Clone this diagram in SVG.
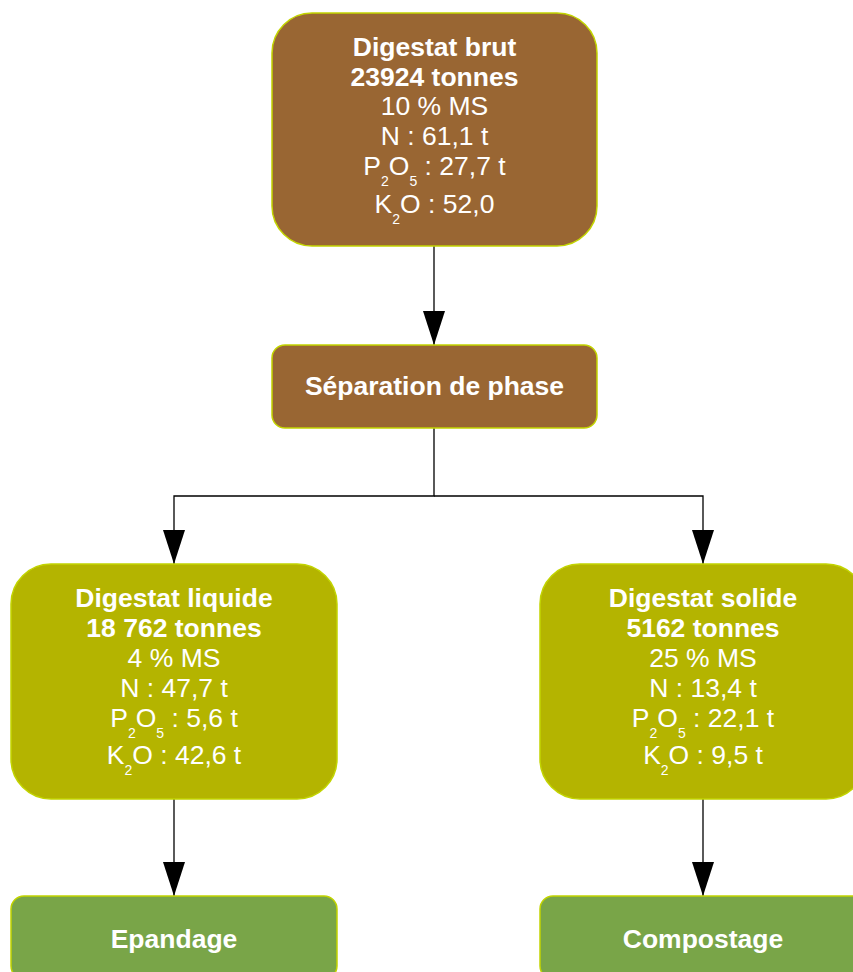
<svg xmlns="http://www.w3.org/2000/svg" width="853" height="972" viewBox="0 0 853 972">
  <style>
    .box { stroke: #c2d400; stroke-width: 1.5; }
    .brown { fill: #996633; }
    .olive { fill: #b4b400; }
    .green { fill: #79a548; }
    text { font-family: "Liberation Sans", Arial, sans-serif; fill: #ffffff; text-anchor: middle; font-size: 26.5px; }
    .b { font-weight: bold; }
    .sub { font-size: 14px; }
    .conn { fill: none; stroke: #000000; stroke-width: 1.3; }
  </style>
  <defs>
    <marker id="arrow" viewBox="0 0 34 22" refX="34" refY="11" markerWidth="34" markerHeight="22" markerUnits="userSpaceOnUse" orient="auto">
      <path d="M0,0 L34,11 L0,22 z" fill="#000000"/>
    </marker>
  </defs>
  <rect width="853" height="972" fill="#ffffff"/>

  <g id="connectors">
    <path class="conn" d="M434,246 L434,345" marker-end="url(#arrow)"/>
    <path class="conn" d="M434,428 L434,496 L174,496 L174,564" marker-end="url(#arrow)"/>
    <path class="conn" d="M434,496 L703,496 L703,564" marker-end="url(#arrow)"/>
    <path class="conn" d="M174,799 L174,896" marker-end="url(#arrow)"/>
    <path class="conn" d="M703,799 L703,896" marker-end="url(#arrow)"/>
  </g>

  <g id="brut">
    <rect class="box brown" x="272" y="13" width="325" height="233" rx="40" ry="40"/>
    <text x="434.5" y="56" class="b">Digestat brut</text>
    <text x="434.5" y="86" class="b">23924 tonnes</text>
    <text x="434.5" y="115">10 % MS</text>
    <text x="434.5" y="145">N : 61,1 t</text>
    <text x="434.5" y="175">P<tspan class="sub" dy="10.5">2</tspan><tspan dy="-10.5">O</tspan><tspan class="sub" dy="10.5">5</tspan><tspan dy="-10.5"> : 27,7 t</tspan></text>
    <text x="434.5" y="213">K<tspan class="sub" dy="10.5">2</tspan><tspan dy="-10.5">O : 52,0</tspan></text>
  </g>

  <g id="separation">
    <rect class="box brown" x="272" y="345" width="325" height="83" rx="13" ry="13"/>
    <text x="434.5" y="395" class="b">Séparation de phase</text>
  </g>

  <g id="liquide">
    <rect class="box olive" x="11" y="564" width="326" height="235" rx="40" ry="40"/>
    <text x="174" y="607" class="b">Digestat liquide</text>
    <text x="174" y="637" class="b">18 762 tonnes</text>
    <text x="174" y="667">4 % MS</text>
    <text x="174" y="697">N : 47,7 t</text>
    <text x="174" y="727">P<tspan class="sub" dy="10.5">2</tspan><tspan dy="-10.5">O</tspan><tspan class="sub" dy="10.5">5</tspan><tspan dy="-10.5"> : 5,6 t</tspan></text>
    <text x="174" y="764">K<tspan class="sub" dy="10.5">2</tspan><tspan dy="-10.5">O : 42,6 t</tspan></text>
  </g>

  <g id="solide">
    <rect class="box olive" x="540" y="564" width="326" height="235" rx="40" ry="40"/>
    <text x="703" y="607" class="b">Digestat solide</text>
    <text x="703" y="637" class="b">5162 tonnes</text>
    <text x="703" y="667">25 % MS</text>
    <text x="703" y="697">N : 13,4 t</text>
    <text x="703" y="727">P<tspan class="sub" dy="10.5">2</tspan><tspan dy="-10.5">O</tspan><tspan class="sub" dy="10.5">5</tspan><tspan dy="-10.5"> : 22,1 t</tspan></text>
    <text x="703" y="764">K<tspan class="sub" dy="10.5">2</tspan><tspan dy="-10.5">O : 9,5 t</tspan></text>
  </g>

  <g id="epandage">
    <rect class="box green" x="11" y="896" width="326" height="83" rx="13" ry="13"/>
    <text x="174" y="948" class="b">Epandage</text>
  </g>

  <g id="compostage">
    <rect class="box green" x="540" y="896" width="326" height="83" rx="13" ry="13"/>
    <text x="703" y="948" class="b">Compostage</text>
  </g>
</svg>
